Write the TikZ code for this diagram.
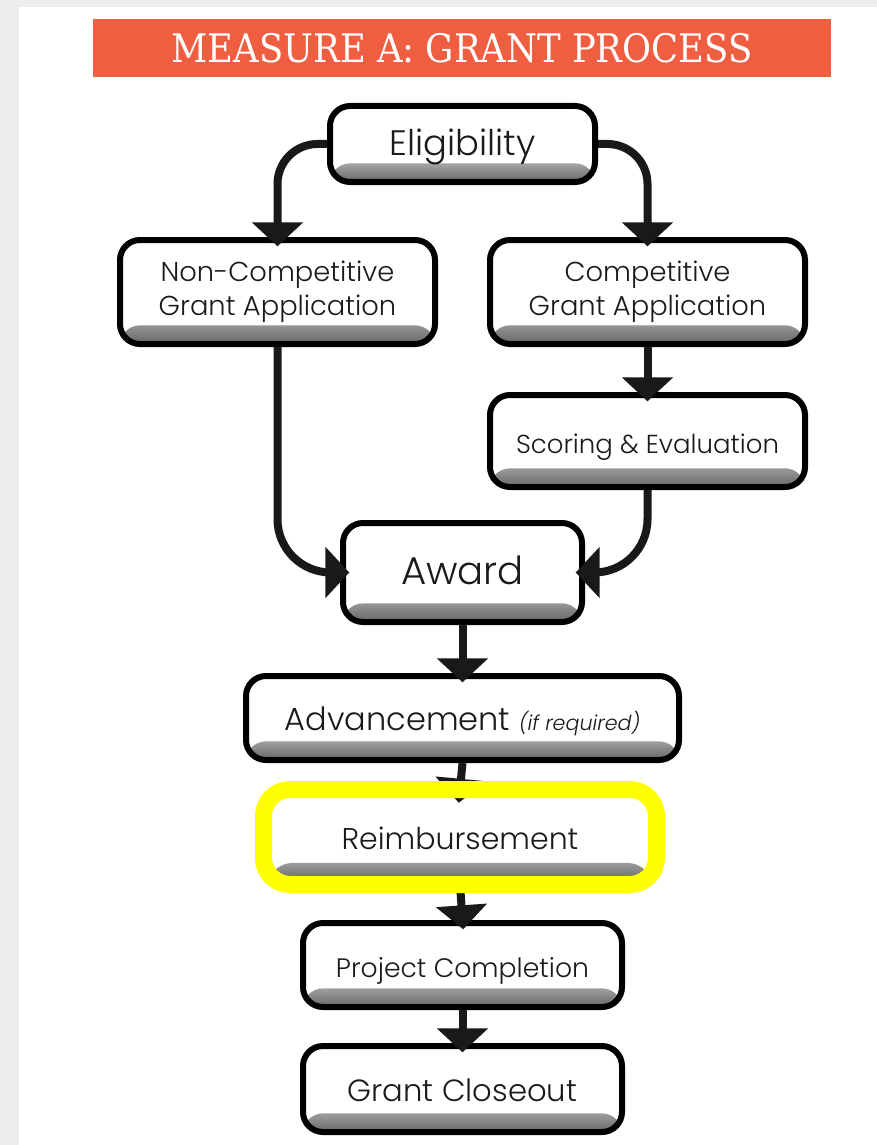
\documentclass[tikz,border=0pt]{standalone}
\usepackage{fontspec}
\setmainfont{Poppins}[UprightFont=* Light, ItalicFont=* Light Italic]
\newfontfamily\titlefont{DejaVu Serif Condensed}
\usetikzlibrary{arrows.meta}
\definecolor{titlebg}{HTML}{EF5E40}
\definecolor{txt}{HTML}{1A1A1A}
\definecolor{hl}{HTML}{FFFF00}
\tikzset{
  box/.style={draw=black, line width=4.5pt, rounded corners=15pt, fill=white,
    align=center, inner sep=0pt, text=txt,
    path picture={\shade[top color=white, bottom color=black!60, middle color=black!10]
      ([yshift=14pt]path picture bounding box.south west) rectangle (path picture bounding box.south east);}},
  oneline/.style={text height=2.0em, text depth=0.2em},
  conn/.style={line width=6pt, draw=black!90, -{Triangle[width=37.5pt,length=18pt]}, shorten >=-7pt},
}
\begin{document}
\begin{tikzpicture}[x=0.75pt,y=-0.75pt]
\useasboundingbox (0,0) rectangle (877,1145);
\fill[black!7] (0,0) rectangle (877,1145);
\fill[white] (19,7) rectangle (877,1145);
% title
\node[fill=titlebg, minimum width=553.5pt, minimum height=43.5pt, inner sep=0pt, text=white,
  font=\titlefont\fontsize{29.5}{32}\selectfont]
  (title) at (462,48) {MEASURE A: GRANT PROCESS};
% boxes
\node[box, oneline, minimum width=198.75pt, minimum height=57pt, font=\fontsize{26.5}{28}\selectfont]
  (elig) at (462.5,144) {Eligibility};
\node[box, minimum width=236.25pt, minimum height=78pt, font=\fontsize{20.5}{25.5}\selectfont]
  (noncomp) at (277.5,292) {Non-Competitive\\Grant Application};
\node[box, minimum width=236.25pt, minimum height=78pt, font=\fontsize{20.5}{25.5}\selectfont]
  (comp) at (647.5,292) {Competitive\\Grant Application};
\node[box, oneline, minimum width=236.25pt, minimum height=69pt, font=\fontsize{19.5}{22}\selectfont]
  (score) at (647.5,441) {Scoring \& Evaluation};
\node[box, oneline, minimum width=179.25pt, minimum height=74.25pt, font=\fontsize{29}{30}\selectfont]
  (award) at (462.5,572.5) {Award};
\node[box, oneline, minimum width=324.75pt, minimum height=63pt, font=\fontsize{24}{26}\selectfont]
  (adv) at (462.5,718) {Advancement {\fontsize{15.5}{18}\selectfont\itshape (if required)}};
\node[box, oneline, minimum width=290.25pt, minimum height=66.75pt, rounded corners=20pt,
  font=\fontsize{22.5}{24}\selectfont] (reimb) at (460,837) {Reimbursement};
\node[box, oneline, minimum width=239.25pt, minimum height=63pt, font=\fontsize{20}{22}\selectfont]
  (projc) at (462.5,965) {Project Completion};
\node[box, oneline, minimum width=239.25pt, minimum height=64.5pt, font=\fontsize{23}{24}\selectfont]
  (close) at (462.5,1089) {Grant Closeout};
% connectors
\draw[conn, rounded corners=30pt] (elig.west) -| (noncomp.north);
\draw[conn, rounded corners=30pt] (elig.east) -| (comp.north);
\draw[conn, rounded corners=40pt] (noncomp.south) |- (award.west);
\draw[conn, rounded corners=40pt] (score.south) |- (award.east);
\draw[conn] (comp.south) -- (score.north);
\draw[conn] (award.south) -- (adv.north);
\draw[conn, shorten >=-10pt] (adv.south) -- (reimb.north);
\draw[conn] (reimb.south) -- (projc.north);
\draw[conn] (projc.south) -- (close.north);
% highlight
\draw[hl, line width=12.75pt, rounded corners=20pt] (reimb.north west) rectangle (reimb.south east);
\end{tikzpicture}
\end{document}
